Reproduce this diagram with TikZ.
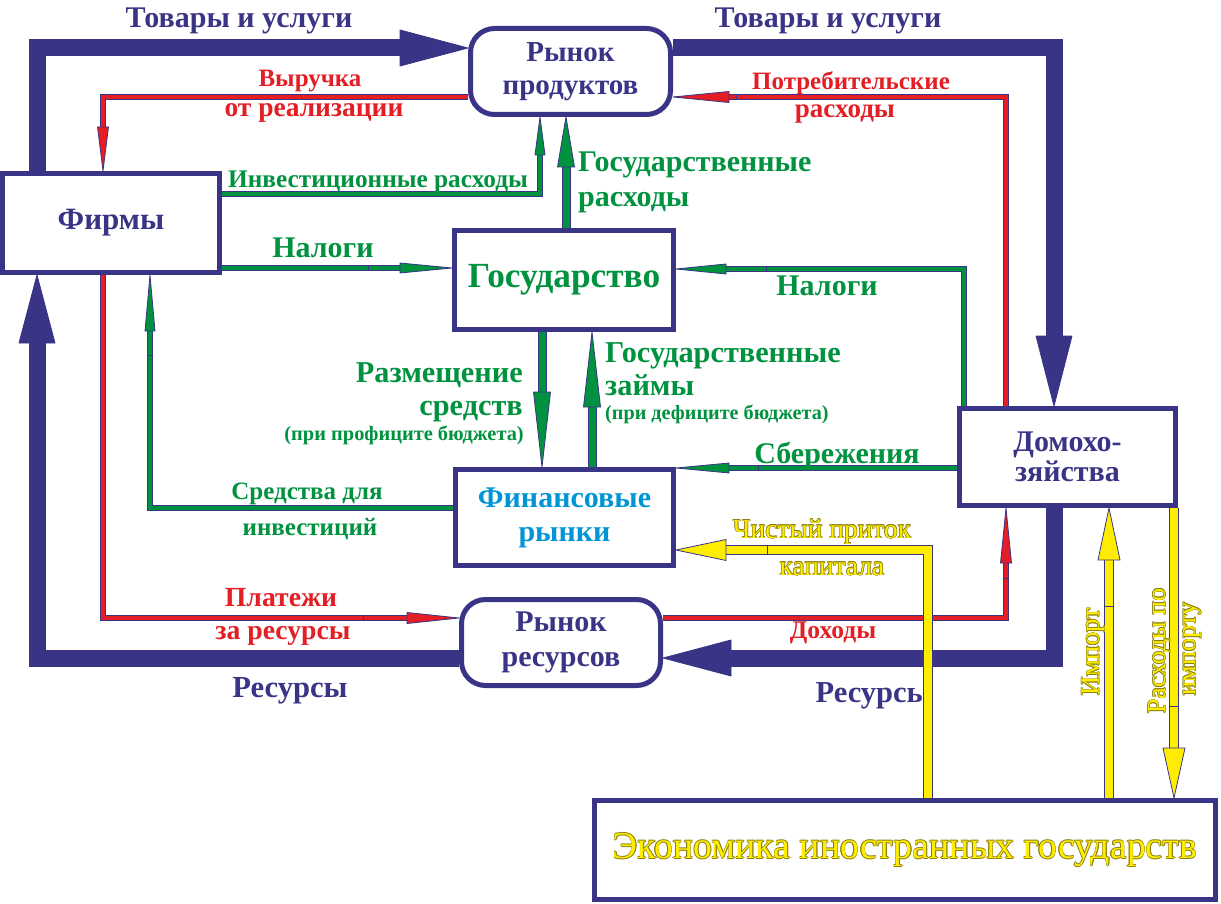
\documentclass[tikz,border=0pt]{standalone}
\usepackage{fontspec}
\setmainfont{Liberation Serif}
\usetikzlibrary{calc}
\definecolor{navy}{RGB}{58,52,134}
\definecolor{fred}{RGB}{227,30,36}
\definecolor{fgreen}{RGB}{0,146,63}
\definecolor{fyellow}{RGB}{255,237,0}
\definecolor{fcyan}{RGB}{0,150,214}
\definecolor{olivec}{RGB}{140,128,20}
\newcommand{\fz}[1]{\fontsize{#1}{#1}\selectfont}
\newcommand{\oshift}[3]{\rlap{\hspace*{#1}\raisebox{#2}{\textcolor{olivec}{#3}}}}
\newcommand{\yout}[1]{\oshift{0.6pt}{0pt}{#1}\oshift{-0.6pt}{0pt}{#1}\oshift{0pt}{0.6pt}{#1}\oshift{0pt}{-0.6pt}{#1}\oshift{0.42pt}{0.42pt}{#1}\oshift{-0.42pt}{0.42pt}{#1}\oshift{0.42pt}{-0.42pt}{#1}\oshift{-0.42pt}{-0.42pt}{#1}#1}
\newcommand{\headR}[4]{\filldraw[headstyle,fill=#1] (#2) -- ++({-#3},{-#4}) -- ++(0,{2*#4}) -- cycle;}
\newcommand{\headL}[4]{\filldraw[headstyle,fill=#1] (#2) -- ++({#3},{-#4}) -- ++(0,{2*#4}) -- cycle;}
\newcommand{\headU}[4]{\filldraw[headstyle,fill=#1] (#2) -- ++({-#4},{#3}) -- ++({2*#4},0) -- cycle;}
\newcommand{\headD}[4]{\filldraw[headstyle,fill=#1] (#2) -- ++({-#4},{-#3}) -- ++({2*#4},0) -- cycle;}
\tikzset{
  box/.style={draw=navy, line width=5pt, fill=white, inner sep=0pt, align=center},
  rbox/.style={box, rounded corners=24pt},
  headstyle/.style={draw=navy, line width=0.8pt, line join=round},
  thickflow/.style={draw=navy, line width=17pt, line join=miter},
  redflow/.style={draw=fred, line width=4pt, preaction={draw=navy, line width=6pt}},
  greenflow/.style={draw=fgreen, line width=4pt, preaction={draw=navy, line width=6pt}},
  greenthick/.style={draw=fgreen, line width=7pt, preaction={draw=navy, line width=9pt}},
  yellowflow/.style={draw=fyellow, line width=8pt, preaction={draw=navy, line width=10pt}},
  tick/.style={draw=navy, line width=0.8pt},
  lbl/.style={inner sep=0pt, anchor=base},
  navylbl/.style={lbl, text=navy},
  redlbl/.style={lbl, text=fred},
  greenlbl/.style={lbl, text=fgreen},
  yellowlbl/.style={lbl, text=fyellow},
}
\begin{document}
\begin{tikzpicture}[x=1pt, y=-1pt]
\useasboundingbox (0,0) rectangle (1221,904);

% boxes
\node[box, minimum width=217pt, minimum height=99pt, text=navy, font=\bfseries\fz{31}] (firms) at (111,223) {Фирмы};
\node[rbox, minimum width=200pt, minimum height=86pt, text=navy, font=\bfseries\fontsize{29}{33}\selectfont] (prod) at (570.5,71.5) {Рынок\\продуктов};
\node[box, minimum width=219pt, minimum height=99pt, text=fgreen, font=\bfseries\fz{35.3}] (gov) at (564,280) {Государство};
\node[box, minimum width=218pt, minimum height=96pt, text=fcyan, font=\bfseries\fontsize{30}{34}\selectfont] (fin) at (564.5,517.5) {Финансовые\\рынки};
\node[rbox, minimum width=199pt, minimum height=86pt, text=navy, font=\bfseries\fontsize{30}{35}\selectfont] (res) at (561,642.5) {Рынок\\ресурсов};
\node[box, minimum width=216pt, minimum height=97pt, text=navy, font=\bfseries\fontsize{30}{30}\selectfont] (hh) at (1067.5,457) {Домохо-\\зяйства};
\node[box, minimum width=621pt, minimum height=99pt, text=fyellow, font=\fz{37.8}] (econ) at (905,850) {\yout{Экономика иностранных государств}};

% thick navy flows
\draw[thickflow] (firms.north -| 37,0) |- ($(prod.west |- 0,48)+(-68,0)$);
\headR{navy}{prod.west |- 0,48}{68}{18}
\draw[thickflow] (prod.east |- 0,48) -| ($(hh.north -| 1054,0)+(0,-70)$);
\headD{navy}{hh.north -| 1054,0}{70}{18}
\draw[thickflow] (hh.south -| 1054,0) |- ($(res.east |- 0,658)+(68,0)$);
\headL{navy}{res.east |- 0,658}{68}{18}
\draw[thickflow] (res.west |- 0,658) -| ($(firms.south -| 37,0)+(0,68)$);
\headU{navy}{firms.south -| 37,0}{68}{18}

% red flows
\draw[redflow] (prod.west |- 0,97) -| ($(firms.north -| 103,0)+(0,-44)$);
\headD{fred}{firms.north -| 103,0}{44}{5.5}
\draw[redflow] (hh.north -| 1006,0) |- ($(prod.east |- 0,97)+(56,0)$);
\headL{fred}{prod.east |- 0,97}{56}{5.5}
\draw[tick] (736,94) -- (736,100);
\draw[redflow] (firms.south -| 103,0) |- ($(res.west |- 0,618)+(-52,0)$);
\headR{fred}{res.west |- 0,618}{52}{5.5}
\draw[tick] (363,615) -- (363,621);
\draw[redflow] (res.east |- 0,618) -| ($(hh.south -| 1006,0)+(0,55)$);
\headU{fred}{hh.south -| 1006,0}{55}{5.5}
\draw[tick] (1003,578) -- (1009,578);

% green flows
\draw[greenflow] (firms.east |- 0,194) -| ($(prod.south -| 540,0)+(0,38)$);
\headU{fgreen}{prod.south -| 540,0}{38}{5}
\draw[greenflow] (firms.east |- 0,268) -- ($(gov.west |- 0,268)+(-52,0)$);
\headR{fgreen}{gov.west |- 0,268}{52}{5}
\draw[tick] (368,265) -- (368,271);
\draw[greenflow] (hh.north -| 964,0) |- ($(gov.east |- 0,269)+(50,0)$);
\headL{fgreen}{gov.east |- 0,269}{50}{5}
\draw[tick] (766,266) -- (766,272);
\draw[greenflow] (hh.west |- 0,468) -- ($(fin.east |- 0,468)+(53,0)$);
\headL{fgreen}{fin.east |- 0,468}{53}{5}
\draw[tick] (758,465) -- (758,471);
\draw[greenflow] (fin.west |- 0,508) -| ($(firms.south -| 150,0)+(0,56)$);
\headU{fgreen}{firms.south -| 150,0}{56}{5}
\draw[tick] (147,355) -- (153,355);
\draw[greenthick] (gov.north -| 566,0) -- ($(prod.south -| 566,0)+(0,50)$);
\headU{fgreen}{prod.south -| 566,0}{50}{8.5}
\draw[greenthick] (gov.south -| 542,0) -- ($(fin.north -| 542,0)+(0,-75)$);
\headD{fgreen}{fin.north -| 542,0}{75}{8.5}
\draw[greenthick] (fin.north -| 592,0) -- ($(gov.south -| 592,0)+(0,75)$);
\headU{fgreen}{gov.south -| 592,0}{75}{8.5}

% yellow flows
\draw[yellowflow] (econ.north -| 928,0) |- ($(fin.east |- 0,550)+(50,0)$);
\headL{fyellow}{fin.east |- 0,550}{50}{10.5}
\draw[tick] (767,545) -- (767,555);
\draw[yellowflow] (econ.north -| 1109,0) -- ($(hh.south -| 1109,0)+(0,52)$);
\headU{fyellow}{hh.south -| 1109,0}{52}{11}
\draw[tick] (1104,606) -- (1114,606);
\draw[yellowflow] (hh.south -| 1174,0) -- ($(econ.north -| 1174,0)+(0,-50)$);
\headD{fyellow}{econ.north -| 1174,0}{50}{11}
\draw[tick] (1169,706) -- (1179,706);

% labels
\node[navylbl, font=\bfseries\fz{30}] (t1) at (239,28) {Товары и услуги};
\node[navylbl, font=\bfseries\fz{30}] (t2) at (828,28) {Товары и услуги};
\node[redlbl, font=\bfseries\fz{25}] (t3) at (310,87) {Выручка};
\node[redlbl, font=\bfseries\fz{27.5}] (t4) at (314,117) {от реализации};
\node[redlbl, font=\bfseries\fz{25}] (t5) at (851,90) {Потребительские};
\node[redlbl, font=\bfseries\fz{27}] (t6) at (845,118) {расходы};
\node[greenlbl, anchor=base west, font=\bfseries\fz{25.3}] (t7) at (228,188) {Инвестиционные расходы};
\node[greenlbl, anchor=base west, font=\bfseries\fz{30}] (t8) at (578,172) {Государственные};
\node[greenlbl, anchor=base west, font=\bfseries\fz{30}] (t9) at (578,207) {расходы};
\node[greenlbl, font=\bfseries\fz{30}] (t10) at (323,258) {Налоги};
\node[greenlbl, font=\bfseries\fz{30}] (t11) at (827,295) {Налоги};
\node[greenlbl, anchor=base east, font=\bfseries\fz{30.3}] (t12) at (523,382) {Размещение};
\node[greenlbl, anchor=base east, font=\bfseries\fz{30.3}] (t13) at (523,415) {средств};
\node[greenlbl, anchor=base east, font=\bfseries\fz{20.4}] (t14) at (524,440) {(при профиците бюджета)};
\node[greenlbl, anchor=base west, font=\bfseries\fz{30.3}] (t15) at (605,362) {Государственные};
\node[greenlbl, anchor=base west, font=\bfseries\fz{30.3}] (t16) at (605,395) {займы};
\node[greenlbl, anchor=base west, font=\bfseries\fz{20.2}] (t17) at (605,419) {(при дефиците бюджета)};
\node[greenlbl, font=\bfseries\fz{30}] (t18) at (837,463) {Сбережения};
\node[greenlbl, font=\bfseries\fz{25}] (t19) at (307,499) {Средства для};
\node[greenlbl, font=\bfseries\fz{25}] (t20) at (310,535) {инвестиций};
\node[yellowlbl, font=\fz{27.4}] (t21) at (822,538) {\yout{Чистый приток}};
\node[yellowlbl, font=\fz{27.4}] (t22) at (832,575) {\yout{капитала}};
\node[redlbl, font=\bfseries\fz{27.7}] (t23) at (281,606) {Платежи};
\node[redlbl, font=\bfseries\fz{27.7}] (t24) at (283,639) {за ресурсы};
\node[navylbl, font=\bfseries\fz{30.6}] (t25) at (290,697) {Ресурсы};
\node[redlbl, font=\bfseries\fz{25.5}] (t26) at (833,638) {Доходы};
\node[navylbl, anchor=base east, font=\bfseries\fz{30.5}] (t27) at (923,702) {Ресурсь};
\node[yellowlbl, anchor=center, font=\fz{26.5}] (t28) at (1093,652) {\rotatebox{90}{\yout{Импорт}}};
\node[yellowlbl, anchor=center, font=\fz{26}] (t29) at (1159,651) {\rotatebox{90}{\yout{Расходы по}}};
\node[yellowlbl, anchor=center, font=\fz{26}] (t30) at (1192,649) {\rotatebox{90}{\yout{импорту}}};
\end{tikzpicture}
\end{document}
